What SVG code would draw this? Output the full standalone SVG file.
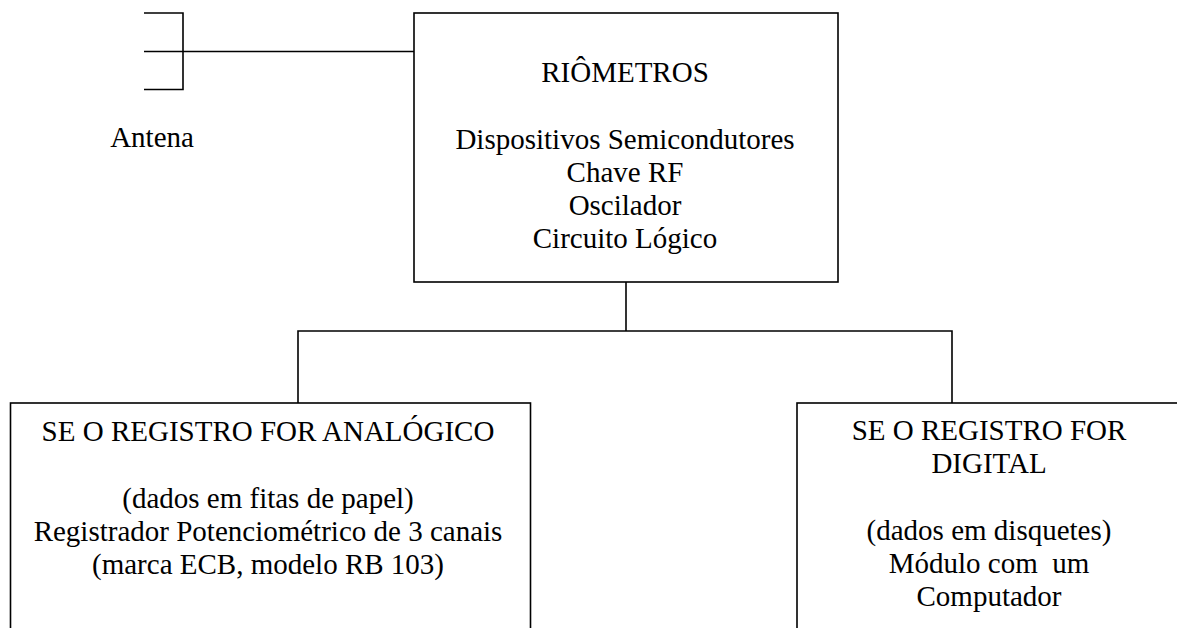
<svg xmlns="http://www.w3.org/2000/svg" width="1177" height="628" viewBox="0 0 1177 628">
<style>
.ln{stroke:#000;stroke-width:1.6;fill:none}
.bx{stroke:#000;stroke-width:1.6;fill:#fff}
text{font-family:"Liberation Serif","Times New Roman",serif;font-size:29px;fill:#000;text-anchor:middle}
</style>
<rect width="1177" height="628" fill="#fff"/>
<g id="connectors">
<path class="ln" d="M183,51.5 H414"/>
<path class="ln" d="M626,282 V331"/>
<path class="ln" d="M298,403 V331 H952 V403"/>
</g>
<g id="antena">
<path class="ln" d="M144,13 H183 V89.5 H144 M144,51.5 H183"/>
<text x="152" y="147">Antena</text>
</g>
<g id="riometros">
<rect class="bx" x="414" y="13" width="424" height="269"/>
<text x="625" y="82">RIÔMETROS</text>
<text x="625" y="149">Dispositivos Semicondutores</text>
<text x="625" y="182">Chave RF</text>
<text x="625" y="215">Oscilador</text>
<text x="625" y="248">Circuito Lógico</text>
</g>
<g id="analogico">
<rect class="bx" x="10.5" y="403" width="520" height="240"/>
<text x="268" y="441">SE O REGISTRO FOR ANALÓGICO</text>
<text x="268" y="508">(dados em fitas de papel)</text>
<text x="268" y="541">Registrador Potenciométrico de 3 canais</text>
<text x="268" y="574">(marca ECB, modelo RB 103)</text>
</g>
<g id="digital">
<rect class="bx" x="797" y="403" width="400" height="240"/>
<text x="989" y="440">SE O REGISTRO FOR</text>
<text x="989" y="473">DIGITAL</text>
<text x="989" y="540">(dados em disquetes)</text>
<text x="989" y="573" xml:space="preserve">Módulo com  um</text>
<text x="989" y="606">Computador</text>
</g>
</svg>
